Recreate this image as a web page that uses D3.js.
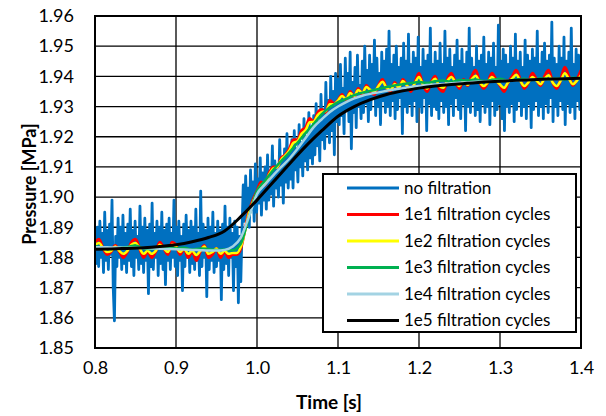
<!DOCTYPE html>
<html><head><meta charset="utf-8">
<script src="https://cdn.jsdelivr.net/npm/d3@7"></script>
<style>html,body{margin:0;padding:0;background:#fff;}svg{display:block;font-family:Lato,"Open Sans",sans-serif;}</style>
</head><body><svg id="c" width="606" height="416"></svg>
<script>
// ---------- DATA ----------
const xTicks = [0.8, 0.9, 1.0, 1.1, 1.2, 1.3, 1.4];
const xTickLabels = ["0.8", "0.9", "1.0", "1.1", "1.2", "1.3", "1.4"];
const yTicks = [1.85, 1.86, 1.87, 1.88, 1.89, 1.90, 1.91, 1.92, 1.93, 1.94, 1.95, 1.96];
const yTickLabels = ["1.85", "1.86", "1.87", "1.88", "1.89", "1.90", "1.91", "1.92", "1.93", "1.94", "1.95", "1.96"];
const seriesNames = ["no filtration", "1e1 filtration cycles", "1e2 filtration cycles", "1e3 filtration cycles", "1e4 filtration cycles", "1e5 filtration cycles"];

// no filtration: t = 0.800 .. 1.400, step 0.0015
const rawStart = 0.8, rawStep = 0.0015;
const rawValues = [
 1.886,1.878,1.890,1.877,1.892,1.880,1.888,1.875,1.895,1.879,1.889,1.876,1.891,1.881,1.899,1.870,1.859,1.887,1.877,1.893,
 1.880,1.890,1.876,1.894,1.878,1.888,1.875,1.891,1.879,1.896,1.877,1.889,1.874,1.892,1.880,1.887,1.876,1.897,1.878,1.890,
 1.875,1.893,1.879,1.889,1.868,1.891,1.877,1.898,1.876,1.888,1.880,1.892,1.874,1.890,1.878,1.895,1.876,1.889,1.871,1.891,
 1.879,1.893,1.876,1.888,1.880,1.899,1.877,1.890,1.874,1.892,1.879,1.887,1.869,1.891,1.877,1.894,1.880,1.889,1.875,1.892,
 1.878,1.890,1.876,1.896,1.879,1.888,1.874,1.902,1.877,1.891,1.880,1.889,1.867,1.893,1.876,1.890,1.879,1.895,1.875,1.888,
 1.877,1.892,1.879,1.889,1.866,1.891,1.876,1.897,1.878,1.890,1.874,1.893,1.880,1.888,1.869,1.892,1.877,1.890,1.865,1.887,
 1.872,1.889,1.904,1.892,1.907,1.894,1.903,1.890,1.909,1.896,1.905,1.892,1.911,1.895,1.906,1.898,1.913,1.894,1.908,1.899,
 1.910,1.896,1.914,1.899,1.908,1.901,1.917,1.897,1.912,1.903,1.909,1.900,1.919,1.904,1.913,1.898,1.916,1.905,1.921,1.903,
 1.915,1.906,1.919,1.903,1.922,1.909,1.916,1.905,1.924,1.910,1.918,1.907,1.926,1.912,1.920,1.909,1.928,1.913,1.923,1.911,
 1.927,1.914,1.931,1.917,1.925,1.912,1.934,1.919,1.929,1.916,1.938,1.921,1.932,1.918,1.940,1.922,1.935,1.914,1.941,1.925,
 1.939,1.924,1.944,1.927,1.936,1.921,1.946,1.929,1.941,1.925,1.948,1.916,1.938,1.928,1.943,1.923,1.947,1.930,1.937,1.926,
 1.945,1.928,1.950,1.931,1.942,1.925,1.947,1.929,1.944,1.933,1.952,1.927,1.946,1.930,1.941,1.924,1.948,1.932,1.945,1.928,
 1.949,1.930,1.955,1.927,1.944,1.932,1.947,1.926,1.950,1.929,1.943,1.933,1.946,1.921,1.951,1.930,1.945,1.928,1.954,1.931,
 1.944,1.927,1.948,1.932,1.946,1.925,1.953,1.930,1.943,1.928,1.949,1.933,1.945,1.922,1.947,1.931,1.956,1.927,1.944,1.930,
 1.948,1.929,1.945,1.926,1.951,1.932,1.944,1.928,1.955,1.930,1.946,1.924,1.949,1.931,1.943,1.927,1.947,1.933,1.952,1.929,
 1.945,1.926,1.949,1.931,1.944,1.922,1.948,1.930,1.956,1.928,1.946,1.932,1.943,1.927,1.950,1.929,1.945,1.925,1.947,1.931,
 1.953,1.928,1.944,1.930,1.948,1.924,1.946,1.932,1.951,1.927,1.943,1.929,1.957,1.931,1.945,1.926,1.949,1.922,1.947,1.930,
 1.944,1.928,1.950,1.931,1.946,1.925,1.954,1.929,1.945,1.932,1.948,1.927,1.943,1.930,1.952,1.926,1.947,1.931,1.945,1.923,
 1.949,1.929,1.946,1.932,1.955,1.927,1.944,1.930,1.948,1.926,1.951,1.931,1.945,1.928,1.947,1.933,1.958,1.925,1.946,1.930,
 1.944,1.927,1.950,1.932,1.946,1.929,1.953,1.924,1.945,1.931,1.948,1.928,1.956,1.930,1.944,1.926,1.949,1.932,1.947,1.929,
 1.940
];

// 1e1 and 1e2: t = 0.800 .. 1.400, step 0.005
const fineStart = 0.8, fineStep = 0.005;
const e1Values = [
 1.885,1.886,1.883,1.881,1.882,1.884,1.882,1.880,1.882,1.885,1.886,1.883,1.880,1.882,1.880,1.882,1.885,1.883,1.881,1.885,
 1.884,1.881,1.883,1.880,1.882,1.879,1.882,1.884,1.880,1.881,1.883,1.880,1.882,1.880,1.881,
 1.881,1.883,1.889,1.895,1.899,1.902,1.905,1.904,1.908,1.910,1.910,1.913,1.914,1.916,1.919,1.919,1.922,1.923,1.926,1.925,
 1.928,1.929,1.928,1.932,1.931,1.932,
 1.934,1.932,1.935,1.933,1.936,1.934,1.937,1.935,1.934,1.937,1.939,1.936,1.935,1.938,1.936,1.939,1.937,1.935,1.938,1.941,
 1.937,1.935,1.938,1.940,1.936,1.935,1.939,1.941,1.938,1.936,1.939,1.937,1.940,1.942,1.938,1.936,1.938,1.941,1.939,1.937,
 1.935,1.938,1.940,1.942,1.939,1.936,1.938,1.941,1.939,1.937,1.940,1.942,1.938,1.936,1.939,1.943,1.940,1.937,1.939,1.942
];
const e2Values = [
 1.8842,1.8848,1.8830,1.8818,1.8822,1.8836,1.8822,1.8812,1.8822,1.8842,1.8848,1.8830,1.8812,1.8822,1.8812,1.8822,1.8842,1.8830,1.8818,1.8842,
 1.8836,1.8818,1.8830,1.8812,1.8822,1.8808,1.8822,1.8836,1.8812,1.8818,1.8830,1.8812,1.8822,1.8812,1.8815,
 1.8815,1.8835,1.8885,1.8945,1.8985,1.9015,1.9040,1.9045,1.9075,1.9095,1.9100,1.9125,1.9138,1.9155,1.9180,1.9185,1.9210,1.9222,1.9248,1.9250,
 1.9272,1.9282,1.9285,1.9308,1.9308,1.9320,
 1.9335,1.9325,1.9345,1.9335,1.9355,1.9345,1.9365,1.9355,1.9350,1.9368,1.9382,1.9362,1.9355,1.9375,1.9362,1.9385,1.9370,1.9358,1.9378,1.9398,
 1.9372,1.9360,1.9378,1.9392,1.9368,1.9362,1.9385,1.9398,1.9380,1.9368,1.9385,1.9372,1.9390,1.9402,1.9380,1.9368,1.9380,1.9398,1.9385,1.9373,
 1.9362,1.9380,1.9392,1.9405,1.9385,1.9368,1.9380,1.9398,1.9386,1.9374,1.9392,1.9404,1.9380,1.9368,1.9386,1.9410,1.9392,1.9374,1.9386,1.9404
];

// 1e3 and 1e4: t = 0.80 .. 1.40, step 0.01
const midStart = 0.8, midStep = 0.01;
const e3Values = [
 1.8838,1.8832,1.8830,1.8832,1.8835,1.8840,1.8830,1.8828,1.8834,1.8836,1.8830,1.8832,1.8826,1.8830,1.8828,1.8825,1.8826,1.8824,
 1.8845,1.8935,1.9020,1.9055,1.9090,1.9120,1.9148,1.9180,1.9212,1.9242,1.9275,1.9298,1.9315,
 1.9325,1.9338,1.9346,1.9352,1.9358,1.9365,1.9370,1.9374,1.9378,1.9381,1.9378,1.9384,1.9386,1.9382,1.9388,1.9386,1.9390,1.9385,1.9388,1.9392,
 1.9386,1.9390,1.9392,1.9388,1.9394,1.9390,1.9393,1.9390,1.9395,1.9394
];
const e4Values = [
 1.8834,1.8834,1.8833,1.8833,1.8832,1.8832,1.8831,1.8830,1.8829,1.8828,1.8827,1.8826,1.8825,1.8824,1.8823,1.8823,1.8825,1.8836,
 1.8866,1.8935,1.9010,1.9042,1.9072,1.9100,1.9127,1.9160,1.9196,1.9232,1.9258,1.9282,1.9300,
 1.9315,1.9327,1.9336,1.9342,1.9347,1.9352,1.9357,1.9361,1.9365,1.9368,
 1.9371,1.9373,1.9375,1.9377,1.9379,1.9380,1.9382,1.9383,1.9384,1.9385,1.9386,1.9387,1.9388,1.9389,1.9390,1.9391,1.9391,1.9392,1.9393,1.9394
];

// 1e5: t = 0.80 .. 1.40, step 0.02
const coarseStart = 0.8, coarseStep = 0.02;
const e5Values = [
 1.8827,1.8828,1.8830,1.8832,1.8836,1.8842,1.8852,1.8866,1.8888,1.8935,1.8990,1.9050,1.9110,1.9168,1.9220,1.9268,
 1.9300,1.9323,1.9340,1.9352,1.9361,1.9368,1.9373,1.9377,1.9381,1.9384,1.9387,1.9389,1.9391,1.9392,1.9394
];

const colors = ["#0070C0", "#FF0000", "#FFFF00", "#00B050", "#A3D3E3", "#000000"];
const widths = [2.8, 3, 2.5, 2.5, 2.5, 3];

// ---------- CHART ----------
const svg = d3.select("#c");
const m = {left: 95, right: 581, top: 16, bottom: 348};
const x = d3.scaleLinear().domain([0.8, 1.4]).range([m.left, m.right]);
const y = d3.scaleLinear().domain([1.85, 1.96]).range([m.bottom, m.top]);

function toPts(vals, start, step) { return vals.map((v, i) => [start + i * step, v]); }
const series = [
  {pts: toPts(rawValues, rawStart, rawStep), curve: d3.curveLinear},
  {pts: toPts(e1Values, fineStart, fineStep), curve: d3.curveMonotoneX},
  {pts: toPts(e2Values, fineStart, fineStep), curve: d3.curveMonotoneX},
  {pts: toPts(e3Values, midStart, midStep), curve: d3.curveMonotoneX},
  {pts: toPts(e4Values, midStart, midStep), curve: d3.curveMonotoneX},
  {pts: toPts(e5Values, coarseStart, coarseStep), curve: d3.curveMonotoneX}
];

// grid
svg.append("g").selectAll("line").data(xTicks).join("line")
  .attr("x1", d => x(d)).attr("x2", d => x(d)).attr("y1", m.top).attr("y2", m.bottom)
  .attr("stroke", "#000").attr("stroke-width", 1.3);
svg.append("g").selectAll("line").data(yTicks).join("line")
  .attr("x1", m.left).attr("x2", m.right).attr("y1", d => y(d)).attr("y2", d => y(d))
  .attr("stroke", "#000").attr("stroke-width", 1.3);

svg.append("clipPath").attr("id", "clip").append("rect")
  .attr("x", m.left).attr("y", m.top).attr("width", m.right - m.left).attr("height", m.bottom - m.top);

const plot = svg.append("g").attr("clip-path", "url(#clip)");
series.forEach((s, i) => {
  plot.append("path").datum(s.pts)
    .attr("d", d3.line().x(d => x(d[0])).y(d => y(d[1])).curve(s.curve))
    .attr("fill", "none").attr("stroke", colors[i]).attr("stroke-width", widths[i])
    .attr("stroke-linejoin", "round");
});

// frame
svg.append("rect").attr("x", m.left).attr("y", m.top).attr("width", m.right - m.left).attr("height", m.bottom - m.top)
  .attr("fill", "none").attr("stroke", "#000").attr("stroke-width", 2);

// axes (labels via d3 axis generators)
const xAxis = d3.axisBottom(x).tickValues(xTicks).tickFormat((d, i) => xTickLabels[i]).tickSize(0).tickPadding(13);
const gx = svg.append("g").attr("transform", `translate(0,${m.bottom})`).call(xAxis);
gx.select(".domain").remove();
gx.selectAll("text").attr("font-size", 18).attr("fill", "#000").style("font-family", "Lato");

const yAxis = d3.axisLeft(y).tickValues(yTicks).tickFormat((d, i) => yTickLabels[i]).tickSize(0).tickPadding(21);
const gy = svg.append("g").attr("transform", `translate(${m.left},0)`).call(yAxis);
gy.select(".domain").remove();
gy.selectAll("text").attr("font-size", 18).attr("fill", "#000").style("font-family", "Lato");

// axis titles
svg.append("text").attr("x", 329).attr("y", 409).attr("text-anchor", "middle")
  .attr("font-size", 19).attr("font-weight", "bold").text("Time [s]");
svg.append("text").attr("transform", `translate(36,${(m.top + m.bottom) / 2 + 2}) rotate(-90)`)
  .attr("text-anchor", "middle").attr("font-size", 18).attr("font-weight", "bold").text("Pressure [MPa]");

// legend
const lg = svg.append("g");
lg.append("rect").attr("x", 323).attr("y", 174).attr("width", 253).attr("height", 158)
  .attr("fill", "#fff").attr("stroke", "#000").attr("stroke-width", 2);
seriesNames.forEach((n, i) => {
  const yy = 188 + i * 26.5;
  lg.append("line").attr("x1", 347).attr("x2", 399).attr("y1", yy).attr("y2", yy)
    .attr("stroke", colors[i]).attr("stroke-width", 3);
  lg.append("text").attr("x", 404).attr("y", yy).attr("dy", "0.35em")
    .attr("font-size", 17).attr("fill", "#000").text(n);
});
</script></body></html>
